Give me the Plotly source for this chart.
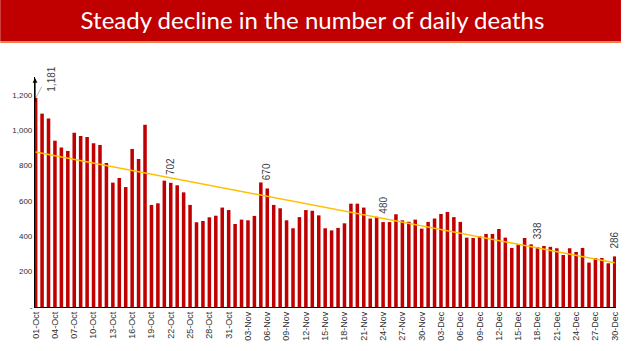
import plotly.graph_objects as go
import datetime as dt

# ---- data ----
deaths = [1181, 1093, 1066, 940, 902, 882, 985, 966, 961, 925, 916, 814, 703, 729, 678, 893, 837, 1030, 577, 586,
          714, 702, 688, 648, 577, 479, 486, 507, 516, 562, 548, 469, 494, 490, 515, 704, 670, 577, 558, 490, 445,
          508, 548, 544, 518, 445, 433, 447, 473, 584, 584, 562, 500, 510, 480, 480, 524, 490, 482, 494, 443, 481, 500, 526, 537, 508,
          481, 392, 390, 400, 413, 413, 441, 392, 334, 353, 390, 354, 338, 345, 340, 332, 294, 332, 311, 334, 251, 277, 277, 247, 286]
start = dt.date(2020, 10, 1)
dates = [(start + dt.timedelta(days=i)).strftime("%d-%b") for i in range(len(deaths))]
tick_idx = list(range(0, len(deaths), 3))
tick_text = [dates[i] for i in tick_idx]
trend_start, trend_end = 876, 250
labelled = {"01-Oct": "1,181", "22-Oct": "702", "06-Nov": "670", "24-Nov": "480", "18-Dec": "338", "30-Dec": "286"}
ytick_vals = [0, 200, 400, 600, 800, 1000, 1200]
ytick_text = ["-", "200", "400", "600", "800", "1,000", "1,200"]

x = list(range(len(deaths)))
fig = go.Figure()
fig.add_trace(go.Bar(x=x, y=deaths, marker=dict(color="#C00000", line=dict(width=0)), width=0.55))
fig.add_trace(go.Scatter(x=[0, len(deaths) - 1], y=[trend_start, trend_end], mode="lines",
                         line=dict(color="#FFC000", width=1.5)))

L, R, T, B = 35, 5, 77, 44
W, H = 625, 351
pw, ph = W - L - R, H - T - B

afont = dict(size=10, color="#404040", family="Liberation Sans")
annos = []
for d, txt in labelled.items():
    i = dates.index(d)
    if i == 0:
        # leader line
        annos.append(dict(x=i, y=deaths[i], text="", showarrow=True, arrowhead=0, arrowwidth=0.8,
                          arrowcolor="#A0A0A0", ax=7, ay=-13))
        annos.append(dict(x=i, y=deaths[i], text=txt, showarrow=False, xanchor="left", yanchor="bottom",
                          xshift=8, yshift=4, textangle=-90, font=afont))
    else:
        annos.append(dict(x=i, y=deaths[i], text=txt, showarrow=False, yanchor="bottom", yshift=6,
                          textangle=-90, font=afont))
# y-axis arrow
annos.append(dict(x=-0.1, y=1295, ax=-0.1, ay=1150, xref="x", yref="y", axref="x", ayref="y",
                  showarrow=True, arrowhead=2, arrowsize=0.8, arrowwidth=1.2, arrowcolor="#000000", text=""))

fig.update_layout(
    width=W, height=H,
    margin=dict(l=L, r=R, t=T, b=B),
    paper_bgcolor="white", plot_bgcolor="white",
    showlegend=False,
    bargap=0.45,
    title=dict(text="Steady decline in the number of daily deaths", x=0.5, xanchor="center",
               xref="container", y=1 - 21 / H, yanchor="middle", yref="container",
               font=dict(color="white", size=24, family="Lato")),
    xaxis=dict(range=[-0.1, len(deaths) - 1 + 0.2], tickmode="array", tickvals=tick_idx, ticktext=tick_text,
               tickangle=-90, tickfont=dict(size=9, color="#303030", family="Liberation Sans"),
               showline=True, linecolor="black", linewidth=1.2, showgrid=False, ticks="", zeroline=False),
    yaxis=dict(range=[0, 1300], tickmode="array", tickvals=ytick_vals, ticktext=ytick_text,
               tickfont=dict(size=8, color="#303030", family="Liberation Sans"),
               showline=True, linecolor="black", linewidth=1.2, showgrid=False, ticks="", zeroline=False),
    annotations=annos,
    shapes=[
        dict(type="rect", xref="paper", yref="paper", x0=-L / pw, x1=(W - L) / pw,
             y0=(H - B - 41) / ph, y1=(H - B + 1) / ph, fillcolor="#C00000", line=dict(width=0), layer="below"),
        dict(type="rect", xref="paper", yref="paper", x0=-L / pw, x1=(W - L) / pw,
             y0=(H - B - 43) / ph, y1=(H - B - 41) / ph, fillcolor="#F08050", line=dict(width=0), layer="below"),
    ],
)
fig.write_html("out.html")
